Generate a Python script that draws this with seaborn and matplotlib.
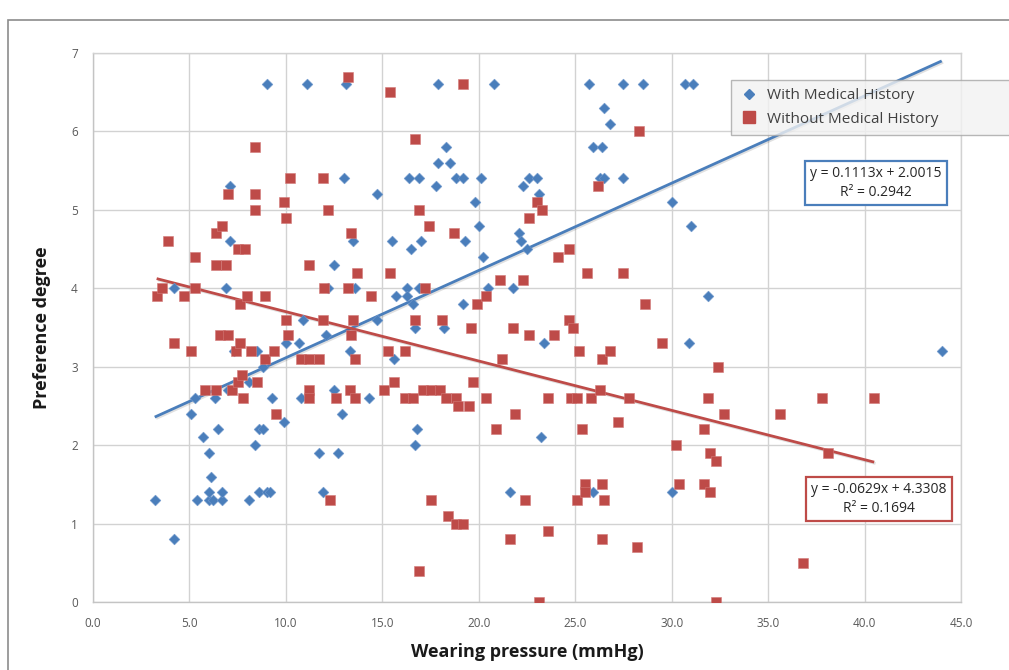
import numpy as np
import pandas as pd
import matplotlib
matplotlib.use("Agg")
import matplotlib.pyplot as plt
import matplotlib.patheffects as pe
from matplotlib.lines import Line2D
from matplotlib.patches import Rectangle
import seaborn as sns

# ---- data -------------------------------------------------------------
with_x = [3.2, 4.2, 4.2, 5.1, 5.3, 5.4, 5.7, 6.0, 6.0, 6.1, 6.0, 6.2, 6.3, 6.5,
          6.7, 6.7, 6.9, 7.0, 7.1, 7.1, 7.3, 8.1, 8.1, 8.4, 8.5, 8.6, 8.6, 8.8,
          8.8, 9.0, 9.2, 9.0, 9.3, 9.9, 10.0, 10.7, 10.8, 10.9, 11.1, 11.7, 11.9,
          12.1, 12.2, 12.5, 12.5, 12.7, 12.9, 13.0, 13.1, 13.3, 13.5, 13.6, 14.3,
          14.7, 14.7, 15.5, 15.6, 15.7, 16.3, 16.3, 16.4, 16.5, 16.6, 16.7, 16.7,
          16.8, 16.9, 16.9, 17.0, 17.8, 17.9, 17.9, 18.2, 18.3, 18.5, 18.8, 19.2,
          19.2, 19.3, 19.8, 20.0, 20.1, 20.2, 20.5, 20.8, 21.6, 21.8, 22.1, 22.2,
          22.3, 22.5, 22.6, 23.0, 23.1, 23.2, 23.4, 25.7, 25.9, 25.9, 26.3, 26.4,
          26.5, 26.5, 26.8, 27.5, 27.5, 28.5, 30.0, 30.0, 30.7, 30.9, 31.0, 31.1,
          31.9, 44.0]
with_y = [1.3, 0.8, 4.0, 2.4, 2.6, 1.3, 2.1, 1.3, 1.4, 1.6, 1.9, 1.3, 2.6, 2.2,
          1.3, 1.4, 4.0, 2.7, 4.6, 5.3, 3.2, 1.3, 2.8, 2.0, 3.2, 1.4, 2.2, 2.2,
          3.0, 1.4, 1.4, 6.6, 2.6, 2.3, 3.3, 3.3, 2.6, 3.6, 6.6, 1.9, 1.4,
          3.4, 4.0, 4.3, 2.7, 1.9, 2.4, 5.4, 6.6, 3.2, 4.6, 4.0, 2.6,
          5.2, 3.6, 4.6, 3.1, 3.9, 4.0, 3.9, 5.4, 4.5, 3.8, 2.0, 3.5,
          2.2, 5.4, 4.0, 4.6, 5.3, 5.6, 6.6, 3.5, 5.8, 5.6, 5.4, 5.4,
          3.8, 4.6, 5.1, 4.8, 5.4, 4.4, 4.0, 6.6, 1.4, 4.0, 4.7, 4.6,
          5.3, 4.5, 5.4, 5.4, 5.2, 2.1, 3.3, 6.6, 5.8, 1.4, 5.4, 5.8,
          5.4, 6.3, 6.1, 6.6, 5.4, 6.6, 5.1, 1.4, 6.6, 3.3, 4.8, 6.6,
          3.9, 3.2]

without_x = [3.3, 3.6, 3.9, 4.2, 4.7, 5.1, 5.3, 5.3, 5.8, 6.4, 6.4, 6.4, 6.6, 6.7,
             6.9, 7.0, 7.0, 7.2, 7.4, 7.5, 7.5, 7.6, 7.6, 7.7, 7.8, 7.9, 8.0, 8.2,
             8.4, 8.4, 8.4, 8.5, 8.9, 8.9, 9.4, 9.5, 9.9, 10.0, 10.0, 10.1, 10.2,
             10.8, 11.2, 11.2, 11.7, 11.2, 11.2, 11.9, 12.0, 11.9, 12.2, 12.3, 12.6,
             13.2, 13.2, 13.3, 13.4, 13.4, 13.5, 13.6, 13.6, 13.7, 14.4, 15.1, 15.3,
             15.4, 15.4, 15.6, 16.2, 16.2, 16.6, 16.7, 16.7, 16.9, 16.9, 17.1, 17.2,
             17.4, 17.5, 17.5, 18.0, 18.1, 18.3, 18.4, 18.7, 18.8, 18.8, 18.9, 19.2,
             19.2, 19.5, 19.6, 19.7, 19.9, 20.4, 20.4, 20.9, 21.1, 21.2, 21.6, 21.8,
             21.9, 22.3, 22.4, 22.6, 22.6, 23.0, 23.1, 23.3, 23.6, 23.6, 23.9, 24.1,
             24.7, 24.7, 24.9, 24.8, 25.1, 25.1, 25.2, 25.35, 25.5, 25.5, 25.6, 25.8,
             26.2, 26.3, 26.4, 26.4, 26.4, 26.5, 26.8, 27.2, 27.5, 27.8, 28.2, 28.3,
             28.6, 29.5, 30.2, 30.4, 31.7, 31.7, 31.9, 32.0, 32.0, 32.3, 32.3, 32.4,
             32.7, 35.6, 36.8, 37.8, 38.1, 40.5]
without_y = [3.9, 4.0, 4.6, 3.3, 3.9, 3.2, 4.0, 4.4, 2.7, 2.7, 4.3, 4.7, 3.4, 4.8,
             4.3, 3.4, 5.2, 2.7, 3.2, 4.5, 2.8, 3.3, 3.8, 2.9, 2.6, 4.5, 3.9, 3.2,
             5.8, 5.2, 5.0, 2.8, 3.9, 3.1, 3.2, 2.4, 5.1, 4.9, 3.6, 3.4, 5.4,
             3.1, 4.3, 3.1, 3.1, 2.7, 2.6, 5.4, 4.0, 3.6, 5.0, 1.3, 2.6,
             6.7, 4.0, 2.7, 4.7, 3.4, 3.6, 3.1, 2.6, 4.2, 3.9, 2.7, 3.2,
             4.2, 6.5, 2.8, 3.2, 2.6, 2.6, 3.6, 5.9, 5.0, 0.4, 2.7, 4.0,
             4.8, 1.3, 2.7, 2.7, 3.6, 2.6, 1.1, 4.7, 2.6, 1.0, 2.5, 6.6,
             1.0, 2.5, 3.5, 2.8, 3.8, 3.9, 2.6, 2.2, 4.1, 3.1, 0.8, 3.5,
             2.4, 4.1, 1.3, 3.4, 4.9, 5.1, 0.0, 5.0, 2.6, 0.9, 3.4, 4.4,
             3.6, 4.5, 3.5, 2.6, 2.6, 1.3, 3.2, 2.2, 1.5, 1.4, 4.2, 2.6,
             5.3, 2.7, 3.1, 1.5, 0.8, 1.3, 3.2, 2.3, 4.2, 2.6, 0.7, 6.0,
             3.8, 3.3, 2.0, 1.5, 2.2, 1.5, 2.6, 1.9, 1.4, 1.8, 0.0, 3.0,
             2.4, 2.4, 0.5, 2.6, 1.9, 2.6]

series_names = ["With Medical History", "Without Medical History"]
# linear trend lines: (slope, intercept, R^2)
fit_with = (0.1113, 2.0015, 0.2942)
fit_without = (-0.0629, 4.3308, 0.1694)

x_ticks = [0.0, 5.0, 10.0, 15.0, 20.0, 25.0, 30.0, 35.0, 40.0, 45.0]
y_ticks = [0, 1, 2, 3, 4, 5, 6, 7]

# ---- style ------------------------------------------------------------
sns.set_style("white")
plt.rcParams["font.family"] = ["Open Sans", "DejaVu Sans"]

BLUE = "#4a7ebb"
RED = "#be4b48"
GRID = "#d2d2d2"
TICK_TXT = "#595959"

W, H = 1009, 670
fig = plt.figure(figsize=(W / 100, H / 100), dpi=100)
ax = fig.add_axes([93 / W, 1 - 602 / H, (961 - 93) / W, (602 - 53) / H])

df_with = pd.DataFrame({"x": with_x, "y": with_y})
df_without = pd.DataFrame({"x": without_x, "y": without_y})

# trend lines (drawn first so markers sit on top)
shadow = [pe.SimpleLineShadow(offset=(1.0, -1.0), alpha=0.12, shadow_color="black"), pe.Normal()]
for df, (m, b, _), col in [(df_with, fit_with, BLUE), (df_without, fit_without, RED)]:
    xs = np.array([df["x"].min(), df["x"].max()])
    ax.plot(xs, m * xs + b, color=col, lw=2.0, zorder=2, path_effects=shadow,
            solid_capstyle="butt")

sns.scatterplot(data=df_with, x="x", y="y", marker="D", s=30, color=BLUE,
                edgecolor="#6f98cc", linewidth=0.4, ax=ax, zorder=3)
sns.scatterplot(data=df_without, x="x", y="y", marker="s", s=62, color=RED,
                edgecolor="#d27a78", linewidth=0.4, ax=ax, zorder=3)

# ---- axes -------------------------------------------------------------
ax.set_xlim(0, 45)
ax.set_ylim(0, 7)
ax.set_xticks(x_ticks)
ax.set_xticklabels([f"{t:.1f}" for t in x_ticks])
ax.set_yticks(y_ticks)
ax.set_yticklabels([str(t) for t in y_ticks])
ax.tick_params(axis="both", labelsize=8.5, length=4, width=0.9,
               direction="out", colors="#bdbdbd", labelcolor=TICK_TXT)
ax.tick_params(axis="y", pad=7)
ax.tick_params(axis="x", pad=7)
ax.grid(True, color=GRID, lw=1.0)
ax.set_axisbelow(True)
for side in ["top", "right", "left", "bottom"]:
    ax.spines[side].set_color(GRID if side in ("top", "right") else "#c4c4c4")
    ax.spines[side].set_linewidth(1.0)

ax.set_xlabel("Wearing pressure (mmHg)", fontsize=13, fontweight="bold",
              color="#1a1a1a", labelpad=9)
ax.set_ylabel("Preference degree", fontsize=13, fontweight="bold",
              color="#1a1a1a", labelpad=14)

# ---- legend -----------------------------------------------------------
handles = [
    Line2D([], [], marker="D", ls="none", color=BLUE, markersize=5.5),
    Line2D([], [], marker="s", ls="none", color=RED, markersize=8),
]
leg = fig.legend(handles, series_names, loc="upper left",
                 bbox_to_anchor=(731 / W, 1 - 152 / H, 300 / W, 72 / H),
                 mode="expand", fontsize=11, frameon=True, fancybox=False,
                 handletextpad=0.6, borderpad=0.55, labelspacing=0.55,
                 handlelength=1.2, borderaxespad=0)
leg.get_frame().set_facecolor("#f2f2f2")
leg.get_frame().set_edgecolor("#a6a6a6")
leg.get_frame().set_linewidth(1.0)
for t in leg.get_texts():
    t.set_color("#404040")

# ---- regression equation boxes ----------------------------------------
def eq_text(fit):
    m, b, r2 = fit
    sign = "+" if b >= 0 else "-"
    return f"y = {m:.4f}x {sign} {abs(b):.4f}\nR\u00b2 = {r2:.4f}"

fig.text(876 / W, 1 - 183 / H, eq_text(fit_with), ha="center", va="center",
         fontsize=10, color="#262626", linespacing=1.3,
         bbox=dict(boxstyle="square,pad=0.35", fc="white", ec=BLUE, lw=1.6))
fig.text(879 / W, 1 - 499 / H, eq_text(fit_without), ha="center", va="center",
         fontsize=10, color="#262626", linespacing=1.3,
         bbox=dict(boxstyle="square,pad=0.35", fc="white", ec=RED, lw=1.6))

# outer chart border
fig.patches.append(Rectangle((8 / W, -0.05), 1.2, 1 - 20 / H + 0.05,
                             transform=fig.transFigure, fill=False,
                             ec="#8c8c8c", lw=1.2, zorder=0))

fig.savefig("out.png", dpi=100, facecolor="white")
